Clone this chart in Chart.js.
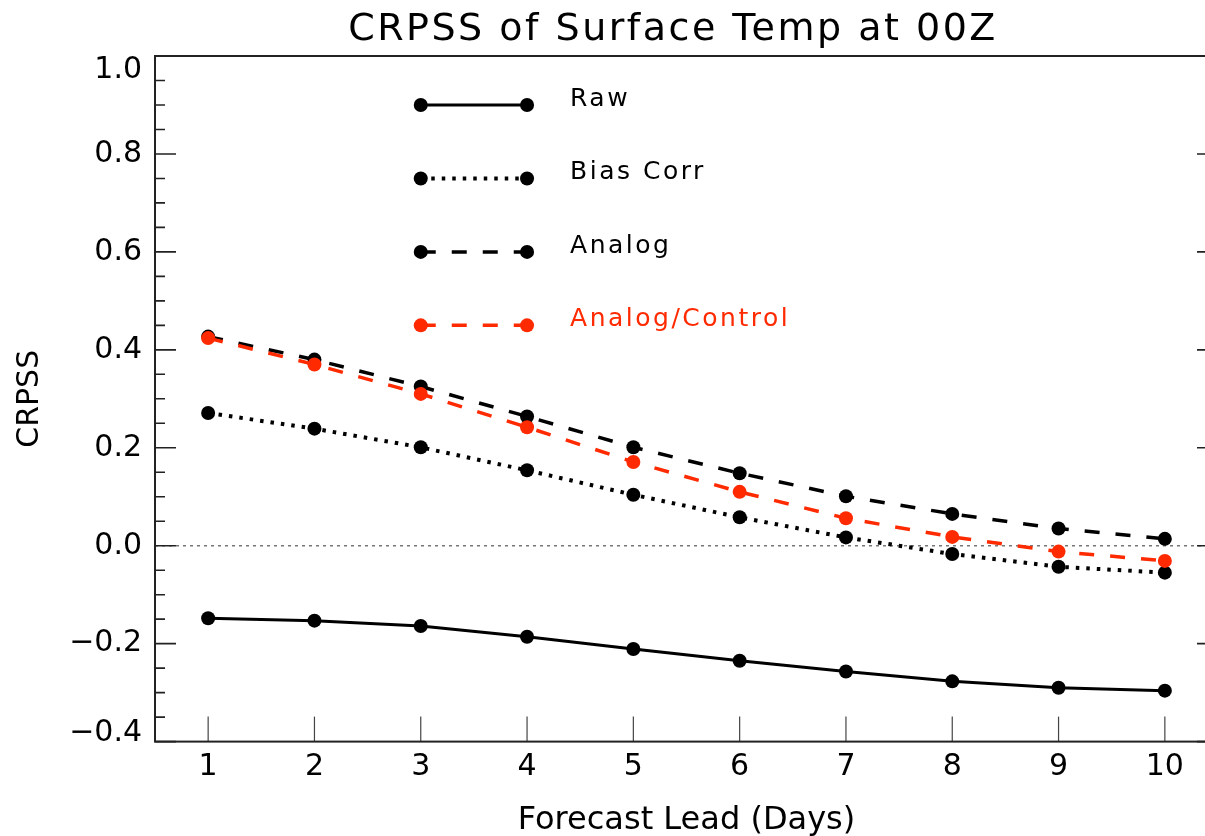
<!DOCTYPE html>
<html>
<head>
<meta charset="utf-8">
<title>CRPSS of Surface Temp at 00Z</title>
<script src="https://cdn.jsdelivr.net/npm/chart.js@4.4.1/dist/chart.umd.min.js"></script>
<style>
  html, body { margin: 0; padding: 0; background: #fff; overflow: hidden; }
  #wrap { width: 1240px; height: 836px; }
</style>
</head>
<body>
<div id="wrap"><canvas id="crpss" width="1240" height="836"></canvas></div>
<script>
// values
const leadDays = ['1', '2', '3', '4', '5', '6', '7', '8', '9', '10'];
const raw = [-0.148, -0.153, -0.164, -0.186, -0.211, -0.235, -0.257, -0.277, -0.290, -0.296];
const biasCorr = [0.271, 0.239, 0.201, 0.154, 0.104, 0.058, 0.017, -0.017, -0.043, -0.055];
const analog = [0.427, 0.380, 0.325, 0.264, 0.201, 0.148, 0.101, 0.065, 0.035, 0.014];
const analogControl = [0.424, 0.370, 0.310, 0.242, 0.171, 0.110, 0.056, 0.018, -0.012, -0.031];

const yMin = -0.4, yMax = 1.0, yStep = 0.2, yMinor = 0.05;
const legendRows = [0.9, 0.75, 0.6, 0.45];   // y value of each legend line

const RED = '#ff2a00';
const FONT = '"DejaVu Sans", sans-serif';
Chart.defaults.font.family = FONT;
Chart.defaults.color = '#000';

function fmt(v) {
  if (Math.abs(v) < 1e-9) return '0.0';
  return v < 0 ? '\u2212' + Math.abs(v).toFixed(1) : v.toFixed(1);
}

// frame, inward ticks, zero line, legend and title (IDL look)
const decor = {
  id: 'decor',
  beforeDatasetsDraw(chart) {
    const {ctx, chartArea: a, scales: {y}} = chart;
    const y0 = y.getPixelForValue(0);
    ctx.save();
    ctx.strokeStyle = '#777';
    ctx.lineWidth = 1.5;
    ctx.setLineDash([3, 4]);
    ctx.beginPath();
    ctx.moveTo(a.left, y0);
    ctx.lineTo(a.right, y0);
    ctx.stroke();
    ctx.restore();
  },
  afterDraw(chart) {
    const {ctx, chartArea: a, scales: {x, y}} = chart;
    ctx.save();

    // y ticks, left and right
    ctx.strokeStyle = '#222';
    ctx.lineWidth = 1.6;
    const n = Math.round((yMax - yMin) / yMinor);
    const per = Math.round(yStep / yMinor);
    for (let i = 0; i <= n; i++) {
      const py = y.getPixelForValue(yMin + i * yMinor);
      const len = i % per === 0 ? 21 : 10;
      ctx.beginPath();
      ctx.moveTo(a.left, py); ctx.lineTo(a.left + len, py);
      ctx.moveTo(a.right, py); ctx.lineTo(a.right - len, py);
      ctx.stroke();
    }
    // x ticks, bottom only
    ctx.strokeStyle = '#444';
    ctx.lineWidth = 1.2;
    leadDays.forEach((d, i) => {
      const px = x.getPixelForValue(i);
      ctx.beginPath();
      ctx.moveTo(px, a.bottom); ctx.lineTo(px, a.bottom - 25);
      ctx.stroke();
    });
    // frame
    ctx.strokeStyle = '#222';
    ctx.lineWidth = 2;
    ctx.strokeRect(a.left, a.top, a.right - a.left, a.bottom - a.top);

    // end labels sit inside the axis span
    ctx.fillStyle = '#000';
    ctx.font = '30px ' + FONT;
    ctx.textAlign = 'right';
    ctx.textBaseline = 'middle';
    ctx.fillText(fmt(yMax), a.left - 13, y.getPixelForValue(yMax) + 14);
    ctx.fillText(fmt(yMin), a.left - 13, y.getPixelForValue(yMin) - 8);

    // legend
    const x1 = x.getPixelForValue(2), x2 = x.getPixelForValue(3);
    chart.data.datasets.forEach((ds, i) => {
      const py = y.getPixelForValue(legendRows[i]);
      ctx.strokeStyle = ds.borderColor;
      ctx.fillStyle = ds.borderColor;
      ctx.lineWidth = ds.borderWidth;
      ctx.lineCap = 'butt';
      ctx.setLineDash(ds.borderDash || []);
      ctx.beginPath();
      ctx.moveTo(x1, py); ctx.lineTo(x2, py);
      ctx.stroke();
      ctx.setLineDash([]);
      [x1, x2].forEach(px => {
        ctx.beginPath();
        ctx.arc(px, py, ds.pointRadius, 0, Math.PI * 2);
        ctx.fill();
      });
      ctx.font = '25px ' + FONT;
      if ('letterSpacing' in ctx) ctx.letterSpacing = '2.5px';
      ctx.textAlign = 'left';
      ctx.textBaseline = 'alphabetic';
      ctx.fillText(ds.label, x2 + 43, py + 1);
    });

    // title
    ctx.fillStyle = '#000';
    ctx.font = '38px ' + FONT;
    if ('letterSpacing' in ctx) ctx.letterSpacing = '2.5px';
    ctx.textAlign = 'center';
    ctx.textBaseline = 'alphabetic';
    ctx.fillText('CRPSS of Surface Temp at 00Z', 673, 40);
    ctx.restore();
  }
};

const pointStyle = { pointRadius: 7, pointHoverRadius: 7, pointBorderWidth: 0 };

new Chart(document.getElementById('crpss'), {
  type: 'line',
  data: {
    labels: leadDays,
    datasets: [
      { label: 'Raw', data: raw, borderColor: '#000', backgroundColor: '#000',
        borderWidth: 3, order: 4, ...pointStyle },
      { label: 'Bias Corr', data: biasCorr, borderColor: '#000', backgroundColor: '#000',
        borderWidth: 4, borderDash: [3.5, 7], order: 3, ...pointStyle },
      { label: 'Analog', data: analog, borderColor: '#000', backgroundColor: '#000',
        borderWidth: 3.5, borderDash: [15, 16], order: 2, ...pointStyle },
      { label: 'Analog/Control', data: analogControl, borderColor: RED, backgroundColor: RED,
        borderWidth: 3.5, borderDash: [15, 16], order: 1, ...pointStyle }
    ]
  },
  options: {
    responsive: false,
    animation: false,
    devicePixelRatio: 1,
    layout: { padding: { top: 56, right: 22, left: 0, bottom: 0 } },
    elements: {
      line: { tension: 0, borderCapStyle: 'butt', fill: false }
    },
    plugins: {
      legend: { display: false },
      tooltip: { enabled: false },
      title: { display: false }
    },
    scales: {
      x: {
        type: 'category',
        offset: true,
        grid: { display: false, drawTicks: false },
        border: { display: false },
        ticks: { font: { size: 30 }, color: '#000', padding: 8, maxRotation: 0, autoSkip: false },
        title: { display: true, text: 'Forecast Lead (Days)', font: { size: 32 }, color: '#000',
                 padding: { top: 0, bottom: -4 } },
        afterFit(s) { s.height = 94.4; }
      },
      y: {
        min: yMin,
        max: yMax,
        grid: { display: false, drawTicks: false },
        border: { display: false },
        ticks: {
          stepSize: yStep,
          padding: 13,
          font: { size: 30 },
          color: '#000',
          callback: v => (Math.abs(v - yMin) < 1e-9 || Math.abs(v - yMax) < 1e-9) ? '' : fmt(v)
        },
        title: { display: true, text: 'CRPSS', font: { size: 30 }, color: '#000',
                 padding: { top: 12, bottom: 0 } },
        afterFit(s) { s.width = 155; }
      }
    }
  },
  plugins: [decor]
});
</script>
</body>
</html>
